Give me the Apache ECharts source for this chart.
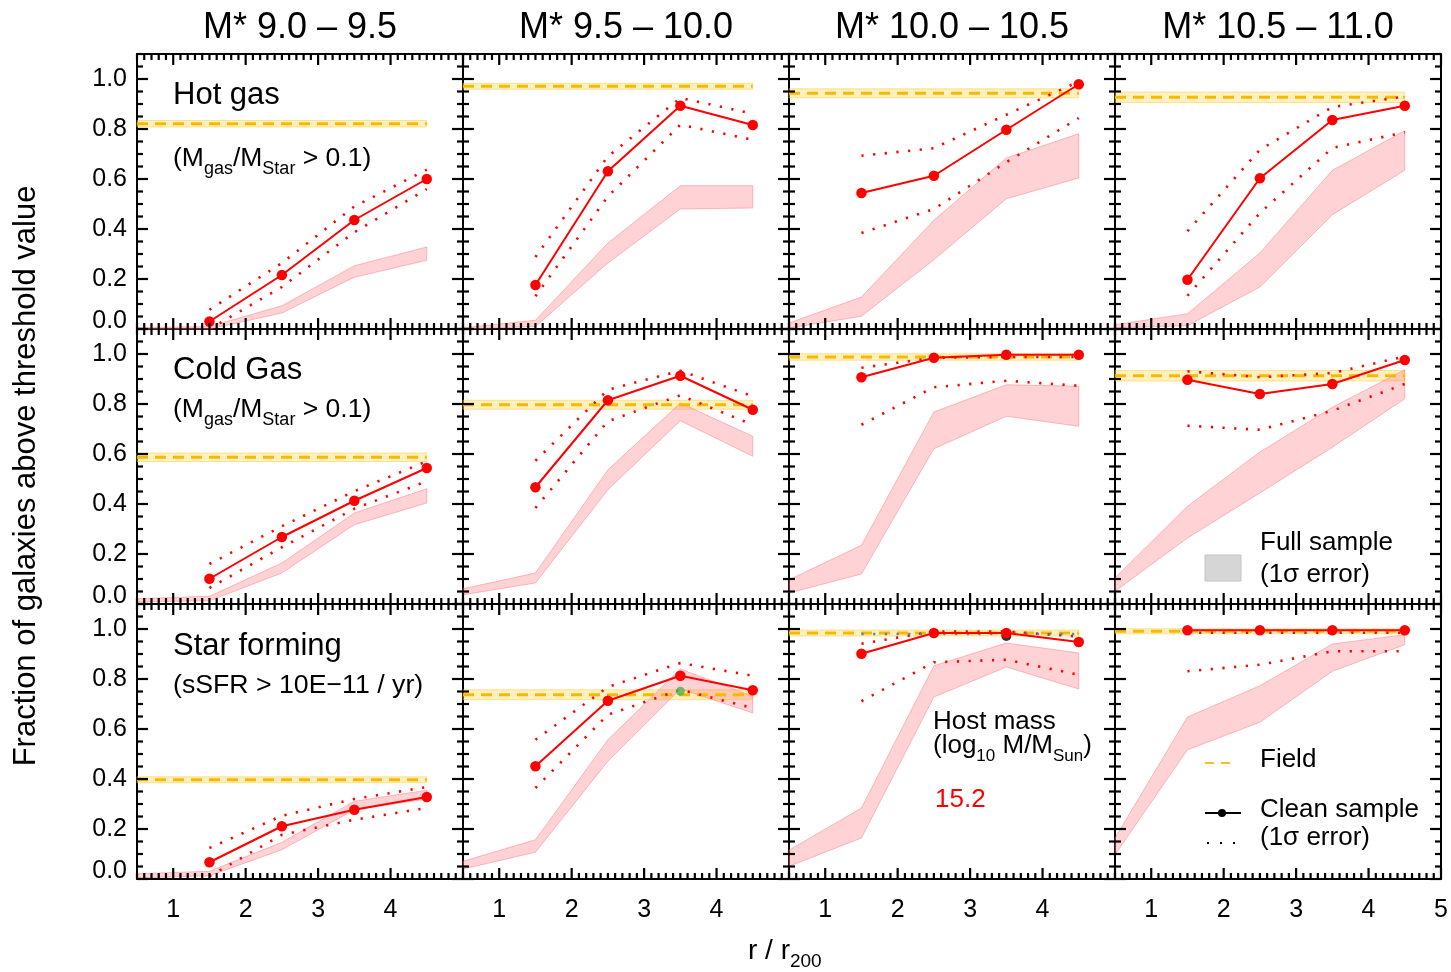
<!DOCTYPE html>
<html><head><meta charset="utf-8">
<script src="https://cdn.jsdelivr.net/npm/echarts@6/dist/echarts.min.js"></script>
<style>html,body{margin:0;padding:0;background:#fff}#c{width:1451px;height:972px}</style>
</head><body><div id="c"></div>
<script>
// ---------------- DATA ----------------
const massBins = ['M* 9.0 – 9.5', 'M* 9.5 – 10.0', 'M* 10.0 – 10.5', 'M* 10.5 – 11.0'];
const radii = [1.5, 2.5, 3.5, 4.5];            // clean-sample bins (r / r200)
const bandRadii = [0.5, 1.5, 2.5, 3.5, 4.5];   // full-sample bins
const fieldRange = [0.5, 4.5];
const xRange = [0.5, 5];
const yRange = [0, 1.1];
const xTickLabels = [1, 2, 3, 4];
const xTickLabelsLast = [1, 2, 3, 4, 5];
const yTickLabels = [0, 0.2, 0.4, 0.6, 0.8, 1.0];

// Hot gas row
const hotClean   = [[0.03,0.216,0.436,0.60],[0.176,0.631,0.893,0.816],[0.544,0.613,0.797,0.979],[0.197,0.603,0.836,0.893]];
const hotCleanHi = [[0.077,0.264,0.49,0.637],[0.288,0.69,0.924,0.861],[0.693,0.723,0.857,0.99],[0.391,0.717,0.888,0.93]];
const hotCleanLo = [[0.0,0.168,0.387,0.56],[0.131,0.53,0.817,0.757],[0.384,0.48,0.667,0.844],[0.133,0.464,0.724,0.787]];
const hotFullLo  = [[0.0,0.0,0.064,0.207,0.275],[0.0,0.01,0.264,0.48,0.484],[0.004,0.051,0.277,0.521,0.604],[0.004,0.013,0.168,0.457,0.635]];
const hotFullHi  = [[0.005,0.01,0.093,0.253,0.328],[0.005,0.035,0.344,0.573,0.573],[0.024,0.128,0.435,0.684,0.781],[0.017,0.061,0.304,0.635,0.793]];
const hotField    = [0.821, 0.971, 0.943, 0.927];
const hotFieldErr = [0.013, 0.012, 0.018, 0.021];

// Cold gas row
const coldClean   = [[0.101,0.268,0.413,0.544],[0.467,0.815,0.913,0.777],[0.907,0.985,0.997,0.997],[0.897,0.84,0.88,0.976]];
const coldCleanHi = [[0.16,0.311,0.451,0.571],[0.573,0.857,0.933,0.831],[0.945,0.985,0.988,0.988],[0.931,0.907,0.924,0.99]];
const coldCleanLo = [[0.064,0.227,0.381,0.491],[0.384,0.731,0.835,0.717],[0.717,0.867,0.893,0.873],[0.713,0.697,0.773,0.88]];
const coldFullLo  = [[0.008,0.013,0.124,0.317,0.404],[0.037,0.084,0.457,0.733,0.591],[0.044,0.12,0.621,0.751,0.711],[0.051,0.264,0.444,0.627,0.821]];
const coldFullHi  = [[0.021,0.031,0.164,0.364,0.461],[0.061,0.124,0.537,0.804,0.671],[0.097,0.235,0.768,0.877,0.871],[0.104,0.391,0.608,0.787,0.937]];
const coldField    = [0.587, 0.797, 0.988, 0.913];
const coldFieldErr = [0.017, 0.018, 0.013, 0.021];

// Star forming row
const sfClean   = [[0.067,0.211,0.277,0.328],[0.451,0.713,0.813,0.755],[0.901,0.984,0.984,0.948],[0.995,0.995,0.995,0.995]];
const sfCleanHi = [[0.124,0.253,0.32,0.368],[0.557,0.768,0.864,0.813],[0.941,0.99,0.99,0.97],[0.985,0.985,0.985,0.985]];
const sfCleanLo = [[0.011,0.177,0.237,0.284],[0.364,0.657,0.757,0.684],[0.711,0.867,0.877,0.817],[0.831,0.857,0.911,0.911]];
const sfFullLo  = [[0.004,0.013,0.117,0.277,0.32],[0.04,0.107,0.471,0.76,0.664],[0.051,0.164,0.728,0.848,0.76],[0.097,0.517,0.627,0.831,0.937]];
const sfFullHi  = [[0.021,0.031,0.147,0.311,0.355],[0.071,0.157,0.557,0.84,0.731],[0.115,0.284,0.853,0.944,0.904],[0.164,0.648,0.773,0.94,0.977]];
const sfField    = [0.397, 0.737, 0.984, 0.991];
const sfFieldErr = [0.012, 0.02, 0.012, 0.01];

// extra host-mass marks
const sfGreenPoint = [3.5, 0.751];   // panel row 3, col 2
const sfBlackPoint = [3.5, 0.972];   // panel row 3, col 3
const sfBlueDotted = [0.98, 0.98, 0.98, 0.98]; // panel row 3, col 3

const rows = [
  {clean: hotClean, hi: hotCleanHi, lo: hotCleanLo, fLo: hotFullLo, fHi: hotFullHi, field: hotField, fErr: hotFieldErr},
  {clean: coldClean, hi: coldCleanHi, lo: coldCleanLo, fLo: coldFullLo, fHi: coldFullHi, field: coldField, fErr: coldFieldErr},
  {clean: sfClean, hi: sfCleanHi, lo: sfCleanLo, fLo: sfFullLo, fHi: sfFullHi, field: sfField, fErr: sfFieldErr}
];

// ---------------- LAYOUT ----------------
const FONT = '"Liberation Sans", Arial, Helvetica, sans-serif';
const L0 = 137, T0 = 54, PW = 326, PH = 275;
const grids = [], xAxes = [], yAxes = [], series = [], panelAxes = [];
const RED = '#ff0000';

// tick positions (major every 1 / 0.2, minor every 0.1 / 0.05)
const xTicks = [], yTicks = [];
for (let k = 5; k <= 50; k++) xTicks.push({v: k / 10, major: k % 10 === 0});
for (let k = 0; k <= 22; k++) yTicks.push({v: Math.round(k * 5) / 100, major: k % 4 === 0});

function bandSeries(xi, yi, xs, lo, hi, fill, stroke, z) {
  const data = xs.map((x, i) => [x, lo[i], hi[i]]);
  return {
    type: 'custom', xAxisIndex: xi, yAxisIndex: yi, data: data, silent: true, z: z,
    encode: {x: 0, y: [1, 2]},
    renderItem: function (params, api) {
      if (params.dataIndex !== 0) return null;
      const pts = [];
      for (let i = 0; i < data.length; i++) pts.push(api.coord([data[i][0], data[i][1]]));
      for (let i = data.length - 1; i >= 0; i--) pts.push(api.coord([data[i][0], data[i][2]]));
      return {type: 'polygon', shape: {points: pts}, style: {fill: fill, stroke: stroke, lineWidth: 1}};
    }
  };
}

const DOT = {width: 2.6, type: [2.2, 9.5], cap: 'butt'};
const LBL = {fontFamily: FONT, fontSize: 25, color: '#000'};

for (let r = 0; r < 3; r++) {
  for (let c = 0; c < 4; c++) {
    const g = grids.length;
    grids.push({left: L0 + c * PW, top: T0 + r * PH, width: PW, height: PH});
    const xi = xAxes.length, yi = yAxes.length;
    panelAxes.push({xi: xi, yi: yi});
    const axLine = {show: true, onZero: false, lineStyle: {color: '#000', width: 2}};
    const noTick = {show: false};
    xAxes.push({type: 'value', gridIndex: g, min: xRange[0], max: xRange[1], position: 'bottom', axisLine: axLine, axisTick: noTick,
      splitLine: {show: false},
      axisLabel: Object.assign({show: r === 2, customValues: c === 3 ? xTickLabelsLast : xTickLabels, margin: 19}, LBL)});
    xAxes.push({type: 'value', gridIndex: g, min: xRange[0], max: xRange[1], position: 'top', axisLine: axLine, axisTick: noTick,
      splitLine: {show: false}, axisLabel: {show: false}});
    yAxes.push({type: 'value', gridIndex: g, min: yRange[0], max: yRange[1], position: 'left', axisLine: axLine, axisTick: noTick,
      splitLine: {show: false},
      axisLabel: Object.assign({show: c === 0, customValues: yTickLabels, margin: 10,
        formatter: v => (v === 0 ? '{z|0.0}' : '{n|' + v.toFixed(1) + '}'),
        rich: {z: Object.assign({padding: [0, 0, 16, 0]}, LBL), n: Object.assign({}, LBL)}}, LBL)});
    yAxes.push({type: 'value', gridIndex: g, min: yRange[0], max: yRange[1], position: 'right', axisLine: axLine, axisTick: noTick,
      splitLine: {show: false}, axisLabel: {show: false}});

    const d = rows[r];
    const f = d.field[c], e = d.fErr[c];
    // field band
    series.push(bandSeries(xi, yi, fieldRange, [f - e, f - e], [f + e, f + e], 'rgba(255,208,60,0.32)', 'rgba(255,200,40,0.45)', 1));
    // full sample band
    series.push(bandSeries(xi, yi, bandRadii, d.fLo[c], d.fHi[c], 'rgba(255,110,120,0.30)', 'rgba(255,110,120,0.45)', 2));
    // field dashed line
    series.push({type: 'line', xAxisIndex: xi, yAxisIndex: yi, data: fieldRange.map(x => [x, f]), symbol: 'none', z: 3,
      lineStyle: {color: '#f7b900', width: 3, type: [11, 7]}, silent: true});
    // clean sample errors (dotted)
    series.push({type: 'line', xAxisIndex: xi, yAxisIndex: yi, data: radii.map((x, i) => [x, d.hi[c][i]]), symbol: 'none', z: 4,
      lineStyle: Object.assign({color: RED}, DOT), silent: true});
    series.push({type: 'line', xAxisIndex: xi, yAxisIndex: yi, data: radii.map((x, i) => [x, d.lo[c][i]]), symbol: 'none', z: 4,
      lineStyle: Object.assign({color: RED}, DOT), silent: true});
    if (r === 2 && c === 2) {
      series.push({type: 'line', xAxisIndex: xi, yAxisIndex: yi, data: radii.map((x, i) => [x, sfBlueDotted[i]]), symbol: 'none', z: 4,
        lineStyle: Object.assign({color: '#4f86b8'}, DOT), silent: true});
      series.push({type: 'scatter', xAxisIndex: xi, yAxisIndex: yi, data: [sfBlackPoint], symbolSize: 10, z: 5,
        itemStyle: {color: '#000'}, silent: true});
    }
    if (r === 2 && c === 1) {
      series.push({type: 'scatter', xAxisIndex: xi, yAxisIndex: yi, data: [sfGreenPoint], symbolSize: 9, z: 5,
        itemStyle: {color: '#4caf50'}, silent: true});
    }
    // clean sample line
    series.push({type: 'line', xAxisIndex: xi, yAxisIndex: yi, data: radii.map((x, i) => [x, d.clean[c][i]]),
      symbol: 'circle', symbolSize: 10.5, showSymbol: true, z: 6,
      lineStyle: {color: RED, width: 2}, itemStyle: {color: RED}, silent: true});
  }
}

// ---------------- TEXT ----------------
const richSub = (big, small, color) => ({
  m: {fontFamily: FONT, fontSize: big, lineHeight: big + 4, verticalAlign: 'top', color: color || '#000'},
  s: {fontFamily: FONT, fontSize: small, lineHeight: small, verticalAlign: 'top', padding: [big * 0.56, 0, 0, 0], color: color || '#000'}
});
function txt(x, y, text, size, opts) {
  opts = opts || {};
  const st = {text: text, fill: opts.color || '#000', font: (size) + 'px ' + FONT,
    align: opts.align || 'left', verticalAlign: 'middle'};
  if (opts.rich) st.rich = opts.rich;
  return {type: 'text', x: x, y: y, rotation: opts.rotation || 0, style: st, silent: true, z: 100};
}
const graphics = [];
massBins.forEach((t, c) => graphics.push(txt(L0 + c * PW + PW / 2, 28, t, 36, {align: 'center'})));
graphics.push(txt(173, 95, 'Hot gas', 31));
graphics.push(txt(173, 160, '{m|(M}{s|gas}{m|/M}{s|Star}{m| > 0.1)}', 26, {rich: richSub(26.5, 18)}));
graphics.push(txt(173, 370, 'Cold Gas', 31));
graphics.push(txt(173, 411, '{m|(M}{s|gas}{m|/M}{s|Star}{m| > 0.1)}', 26, {rich: richSub(26.5, 18)}));
graphics.push(txt(173, 646, 'Star forming', 31));
graphics.push(txt(173, 686, '(sSFR > 10E\u221211 / yr)', 26.7));
// host mass
graphics.push(txt(933, 722, 'Host mass', 26));
graphics.push(txt(933, 748, '{m|(log}{s|10}{m| M/M}{s|Sun}{m|)}', 26, {rich: richSub(26, 17)}));
graphics.push(txt(935, 800, '15.2', 26, {color: RED}));
// legends
graphics.push({type: 'rect', shape: {x: 1205, y: 555, width: 36, height: 26}, style: {fill: '#d6d6d6', stroke: '#c4c4c4', lineWidth: 1}, silent: true});
graphics.push(txt(1260, 543, 'Full sample', 26));
graphics.push(txt(1260, 575, '(1\u03c3 error)', 26));
graphics.push({type: 'line', shape: {x1: 1205, y1: 763, x2: 1236, y2: 763}, style: {stroke: '#f7c21a', lineWidth: 2, lineDash: [9, 7]}, silent: true});
graphics.push(txt(1260, 760, 'Field', 26));
graphics.push({type: 'line', shape: {x1: 1205, y1: 813, x2: 1241, y2: 813}, style: {stroke: '#000', lineWidth: 2}, silent: true});
graphics.push({type: 'circle', shape: {cx: 1222, cy: 813, r: 4}, style: {fill: '#000'}, silent: true});
graphics.push(txt(1260, 810, 'Clean sample', 26));
graphics.push({type: 'line', shape: {x1: 1207, y1: 843, x2: 1240, y2: 843}, style: {stroke: '#000', lineWidth: 2, lineDash: [2, 11]}, silent: true});
graphics.push(txt(1260, 838, '(1\u03c3 error)', 26));
// axis names
graphics.push(txt(26, 476, 'Fraction of galaxies above threshold value', 31, {align: 'center', rotation: Math.PI / 2}));
graphics.push(txt(748, 953, '{m|r / r}{s|200}', 28, {rich: richSub(28, 19)}));

const chart = echarts.init(document.getElementById('c'), null, {renderer: 'canvas'});
chart.setOption({
  animation: false,
  backgroundColor: '#fff',
  grid: grids, xAxis: xAxes, yAxis: yAxes, series: series,
  graphic: graphics
});

// inward ticks on all four sides of every panel, positioned through each panel's axis scales
const tickGraphics = [];
panelAxes.forEach(pa => {
  const finder = {xAxisIndex: pa.xi, yAxisIndex: pa.yi};
  const add = (x1, y1, x2, y2) => tickGraphics.push({type: 'line', shape: {x1: x1, y1: y1, x2: x2, y2: y2},
    style: {stroke: '#000', lineWidth: 2.2}, silent: true, z: 90});
  xTicks.forEach(t => {
    const len = t.major ? 11 : 6;
    const b = chart.convertToPixel(finder, [t.v, yRange[0]]);
    const tp = chart.convertToPixel(finder, [t.v, yRange[1]]);
    add(b[0], b[1], b[0], b[1] - len);
    add(tp[0], tp[1], tp[0], tp[1] + len);
  });
  yTicks.forEach(t => {
    const len = t.major ? 11 : 6;
    const l = chart.convertToPixel(finder, [xRange[0], t.v]);
    const rr = chart.convertToPixel(finder, [xRange[1], t.v]);
    add(l[0], l[1], l[0] + len, l[1]);
    add(rr[0], rr[1], rr[0] - len, rr[1]);
  });
});
chart.setOption({graphic: graphics.concat(tickGraphics)});
</script></body></html>
